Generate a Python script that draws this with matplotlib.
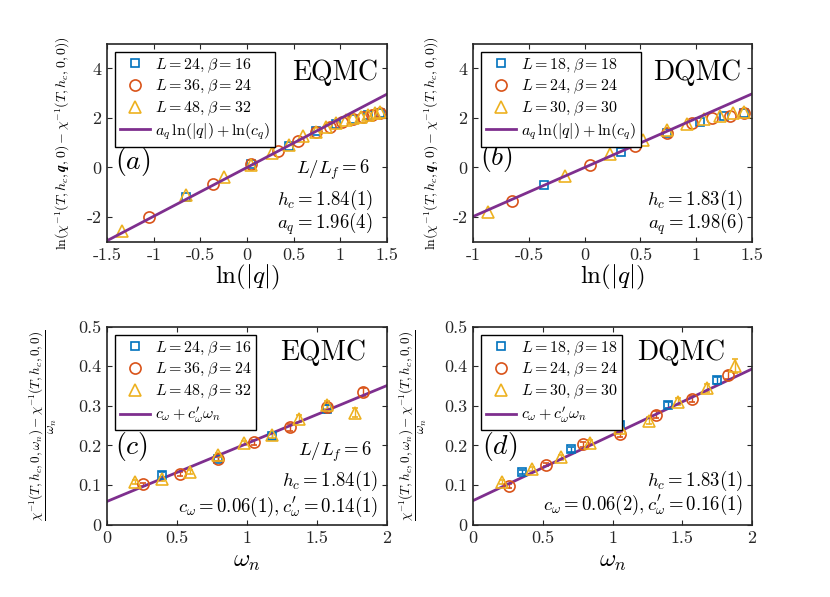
import numpy as np
import matplotlib
matplotlib.use('Agg')
import matplotlib.pyplot as plt
from matplotlib.lines import Line2D

plt.rcParams['font.family'] = 'cmr10'
plt.rcParams['mathtext.fontset'] = 'cm'
plt.rcParams['axes.unicode_minus'] = False
plt.rcParams['axes.formatter.use_mathtext'] = True

blue = '#0072BD'
red = '#D95319'
yellow = '#EDB120'
purple = '#7E2F8E'
dark = '#262626'

# ---- panel (a): EQMC, ln-ln of chi^-1 difference vs ln|q|
a_sq_x = [-0.65, 0.04, 0.45, 0.74, 0.96, 1.14, 1.30, 1.43]
a_sq_y = [-1.20, 0.13, 0.88, 1.47, 1.76, 1.96, 2.10, 2.20]
a_ci_x = [-1.05, -0.36, 0.04, 0.33, 0.55, 0.74, 0.89, 1.02, 1.14, 1.25, 1.34, 1.43]
a_ci_y = [-2.00, -0.65, 0.15, 0.68, 1.05, 1.42, 1.65, 1.85, 1.95, 2.05, 2.12, 2.18]
a_tr_x = [-1.34, -0.65, -0.25, 0.04, 0.27, 0.45, 0.60, 0.74, 0.85, 0.96, 1.06, 1.14, 1.22, 1.30, 1.37, 1.43]
a_tr_y = [-2.55, -1.12, -0.40, 0.10, 0.60, 0.92, 1.25, 1.45, 1.62, 1.78, 1.90, 1.98, 2.05, 2.12, 2.18, 2.22]
a_fit = (1.97, 0.0)

# ---- panel (b): DQMC
b_sq_x = [-0.36, 0.33, 0.74, 1.03, 1.25, 1.43]
b_sq_y = [-0.70, 0.64, 1.40, 1.85, 2.08, 2.20]
b_ci_x = [-0.65, 0.05, 0.45, 0.74, 0.96, 1.14, 1.30, 1.43]
b_ci_y = [-1.36, 0.10, 0.88, 1.38, 1.80, 1.98, 2.08, 2.20]
b_tr_x = [-0.87, -0.18, 0.23, 0.52, 0.74, 0.92, 1.07, 1.21, 1.33, 1.43]
b_tr_y = [-1.78, -0.33, 0.55, 1.10, 1.50, 1.75, 1.95, 2.08, 2.20, 2.22]
b_fit = (1.98, 0.0)

# ---- panel (c): EQMC, frequency dependence
c_sq_x = [0.39, 0.79, 1.18, 1.57]
c_sq_y = [0.126, 0.166, 0.225, 0.291]
c_sq_e = [0.006, 0.006, 0.008, 0.010]
c_ci_x = [0.26, 0.52, 0.79, 1.05, 1.31, 1.57, 1.83]
c_ci_y = [0.102, 0.129, 0.167, 0.208, 0.246, 0.298, 0.336]
c_ci_e = [0.004, 0.005, 0.006, 0.007, 0.009, 0.009, 0.010]
c_tr_x = [0.20, 0.39, 0.59, 0.79, 0.98, 1.18, 1.37, 1.57, 1.77]
c_tr_y = [0.108, 0.115, 0.133, 0.176, 0.206, 0.226, 0.268, 0.302, 0.283]
c_tr_e = [0.004, 0.004, 0.005, 0.006, 0.006, 0.007, 0.008, 0.010, 0.012]
c_fit = (0.146, 0.059)

# ---- panel (d): DQMC
d_sq_x = [0.35, 0.70, 1.05, 1.40, 1.75]
d_sq_y = [0.134, 0.190, 0.252, 0.302, 0.365]
d_sq_e = [0.005, 0.006, 0.007, 0.008, 0.009]
d_ci_x = [0.26, 0.52, 0.79, 1.05, 1.31, 1.57, 1.83]
d_ci_y = [0.098, 0.152, 0.203, 0.228, 0.278, 0.318, 0.378]
d_ci_e = [0.004, 0.005, 0.006, 0.007, 0.008, 0.008, 0.010]
d_tr_x = [0.21, 0.42, 0.63, 0.84, 1.05, 1.26, 1.47, 1.68, 1.88]
d_tr_y = [0.108, 0.140, 0.170, 0.207, 0.243, 0.263, 0.310, 0.346, 0.400]
d_tr_e = [0.004, 0.005, 0.006, 0.006, 0.007, 0.008, 0.009, 0.010, 0.018]
d_fit = (0.166, 0.061)

eq_labels = [r'$L=24,\beta=16$', r'$L=36,\beta=24$', r'$L=48,\beta=32$']
dq_labels = [r'$L=18,\beta=18$', r'$L=24,\beta=24$', r'$L=30,\beta=30$']

ylab_q = r'$\ln(\chi^{-1}(T,h_c,\boldsymbol{q},0)-\chi^{-1}(T,h_c,\boldsymbol{0},0))$'
ylab_w = (r'$\dfrac{\chi^{-1}(T,h_c,\boldsymbol{0},\omega_n)-\chi^{-1}(T,h_c,\boldsymbol{0},0)}'
          r'{\omega_n}$')

fig = plt.figure(figsize=(8.3, 5.97), dpi=100)
ax_a = fig.add_axes([0.129, 0.595, 0.337, 0.332])
ax_b = fig.add_axes([0.570, 0.595, 0.336, 0.332])
ax_c = fig.add_axes([0.129, 0.121, 0.337, 0.332])
ax_d = fig.add_axes([0.570, 0.121, 0.336, 0.332])

TICK_FS = 13
ANN_FS = 13.5
BIG_FS = 20
LAB_FS = 18


def style_axes(ax):
    for s in ax.spines.values():
        s.set_linewidth(1.2)
        s.set_color(dark)
    ax.tick_params(direction='in', length=3.5, width=0.8, top=True, right=True,
                   labelsize=TICK_FS, colors=dark, pad=4)


def scatter_panel(ax, xs, ys, labels, fit, xlim, fit_label, errs=None):
    markers = ['s', 'o', '^']
    sizes = [6, 8, 9]
    colors = [blue, red, yellow]
    handles = []
    for i in range(3):
        if errs is None:
            ax.plot(xs[i], ys[i], marker=markers[i], ms=sizes[i], color=colors[i],
                    mfc='none', mew=1.2, linestyle='none')
        else:
            ax.errorbar(xs[i], ys[i], yerr=errs[i], marker=markers[i], ms=sizes[i],
                        color=colors[i], mfc='none', mew=1.2, linestyle='none',
                        elinewidth=1.0, capsize=2)
        handles.append(Line2D([], [], marker=markers[i], ms=sizes[i], color=colors[i],
                              mfc='none', mew=1.2, linestyle='none', label=labels[i]))
    xx = np.array(xlim)
    h, = ax.plot(xx, fit[0] * xx + fit[1], color=purple, lw=2.0, label=fit_label)
    handles.append(h)
    ax.set_xlim(xlim)
    leg = ax.legend(handles=handles, loc='upper left', fontsize=11.5, handlelength=1.9,
                    handletextpad=0.3, labelspacing=0.2, borderpad=0.3,
                    borderaxespad=0.5, fancybox=False, framealpha=1)
    leg.get_frame().set_edgecolor('black')
    leg.get_frame().set_linewidth(1.0)


def note(ax, x, y, s, fs=ANN_FS, ha='right'):
    ax.text(x, y, s, transform=ax.transAxes, ha=ha, va='center', fontsize=fs)


# panel a
scatter_panel(ax_a, [a_sq_x, a_ci_x, a_tr_x], [a_sq_y, a_ci_y, a_tr_y], eq_labels,
              a_fit, (-1.5, 1.5), r'$a_q\,\ln(|q|)+\ln(c_q)$')
ax_a.set_ylim(-3, 5)
ax_a.set_xticks([-1.5, -1, -0.5, 0, 0.5, 1, 1.5])
ax_a.set_xticklabels(['-1.5', '-1', '-0.5', '0', '0.5', '1', '1.5'])
ax_a.set_yticks([-2, 0, 2, 4])
ax_a.set_yticklabels(['-2', '0', '2', '4'])
ax_a.set_xlabel(r'$\ln(|q|)$', fontsize=LAB_FS, labelpad=0)
ax_a.set_ylabel(ylab_q, fontsize=10)
ax_a.yaxis.set_label_coords(-0.125, 0.5)
note(ax_a, 0.968, 0.854, 'EQMC', fs=BIG_FS)
note(ax_a, 0.030, 0.405, r'$(a)$', fs=BIG_FS, ha='left')
note(ax_a, 0.94, 0.364, r'$L/L_f=6$')
note(ax_a, 0.95, 0.210, r'$h_c=1.84(1)$')
note(ax_a, 0.95, 0.092, r'$a_q=1.96(4)$')
style_axes(ax_a)

# panel b
scatter_panel(ax_b, [b_sq_x, b_ci_x, b_tr_x], [b_sq_y, b_ci_y, b_tr_y], dq_labels,
              b_fit, (-1, 1.5), r'$a_q\,\ln(|q|)+\ln(c_q)$')
ax_b.set_ylim(-3, 5)
ax_b.set_xticks([-1, -0.5, 0, 0.5, 1, 1.5])
ax_b.set_xticklabels(['-1', '-0.5', '0', '0.5', '1', '1.5'])
ax_b.set_yticks([-2, 0, 2, 4])
ax_b.set_yticklabels(['-2', '0', '2', '4'])
ax_b.set_xlabel(r'$\ln(|q|)$', fontsize=LAB_FS, labelpad=0)
ax_b.set_ylabel(ylab_q, fontsize=10)
ax_b.yaxis.set_label_coords(-0.115, 0.5)
note(ax_b, 0.963, 0.854, 'DQMC', fs=BIG_FS)
note(ax_b, 0.026, 0.424, r'$(b)$', fs=BIG_FS, ha='left')
note(ax_b, 0.968, 0.210, r'$h_c=1.83(1)$')
note(ax_b, 0.968, 0.092, r'$a_q=1.98(6)$')
style_axes(ax_b)

# panel c
scatter_panel(ax_c, [c_sq_x, c_ci_x, c_tr_x], [c_sq_y, c_ci_y, c_tr_y], eq_labels,
              c_fit, (0, 2), r"$c_\omega+c^{\prime}_{\omega}\omega_n$", errs=[c_sq_e, c_ci_e, c_tr_e])
ax_c.set_ylim(0, 0.5)
ax_c.set_xticks([0, 0.5, 1, 1.5, 2])
ax_c.set_xticklabels(['0', '0.5', '1', '1.5', '2'])
ax_c.set_yticks([0, 0.1, 0.2, 0.3, 0.4, 0.5])
ax_c.set_yticklabels(['0', '0.1', '0.2', '0.3', '0.4', '0.5'])
ax_c.set_xlabel(r'$\omega_n$', fontsize=LAB_FS, labelpad=4)
ax_c.set_ylabel(ylab_w, fontsize=9.5)
ax_c.yaxis.set_label_coords(-0.172, 0.5)
note(ax_c, 0.927, 0.869, 'EQMC', fs=BIG_FS)
note(ax_c, 0.030, 0.395, r'$(c)$', fs=BIG_FS, ha='left')
note(ax_c, 0.949, 0.37, r'$L/L_f=6$')
note(ax_c, 0.969, 0.219, r'$h_c=1.84(1)$')
note(ax_c, 0.969, 0.092, r"$c_\omega=0.06(1),c^{\prime}_{\omega}=0.14(1)$")
style_axes(ax_c)

# panel d
scatter_panel(ax_d, [d_sq_x, d_ci_x, d_tr_x], [d_sq_y, d_ci_y, d_tr_y], dq_labels,
              d_fit, (0, 2), r"$c_\omega+c^{\prime}_{\omega}\omega_n$", errs=[d_sq_e, d_ci_e, d_tr_e])
ax_d.set_ylim(0, 0.5)
ax_d.set_xticks([0, 0.5, 1, 1.5, 2])
ax_d.set_xticklabels(['0', '0.5', '1', '1.5', '2'])
ax_d.set_yticks([0, 0.1, 0.2, 0.3, 0.4, 0.5])
ax_d.set_yticklabels(['0', '0.1', '0.2', '0.3', '0.4', '0.5'])
ax_d.set_xlabel(r'$\omega_n$', fontsize=LAB_FS, labelpad=4)
ax_d.set_ylabel(ylab_w, fontsize=9.5)
ax_d.yaxis.set_label_coords(-0.158, 0.5)
note(ax_d, 0.903, 0.869, 'DQMC', fs=BIG_FS)
note(ax_d, 0.032, 0.395, r'$(d)$', fs=BIG_FS, ha='left')
note(ax_d, 0.969, 0.219, r'$h_c=1.83(1)$')
note(ax_d, 0.969, 0.10, r"$c_\omega=0.06(2),c^{\prime}_{\omega}=0.16(1)$")
style_axes(ax_d)

fig.savefig('out.png', dpi=100)
